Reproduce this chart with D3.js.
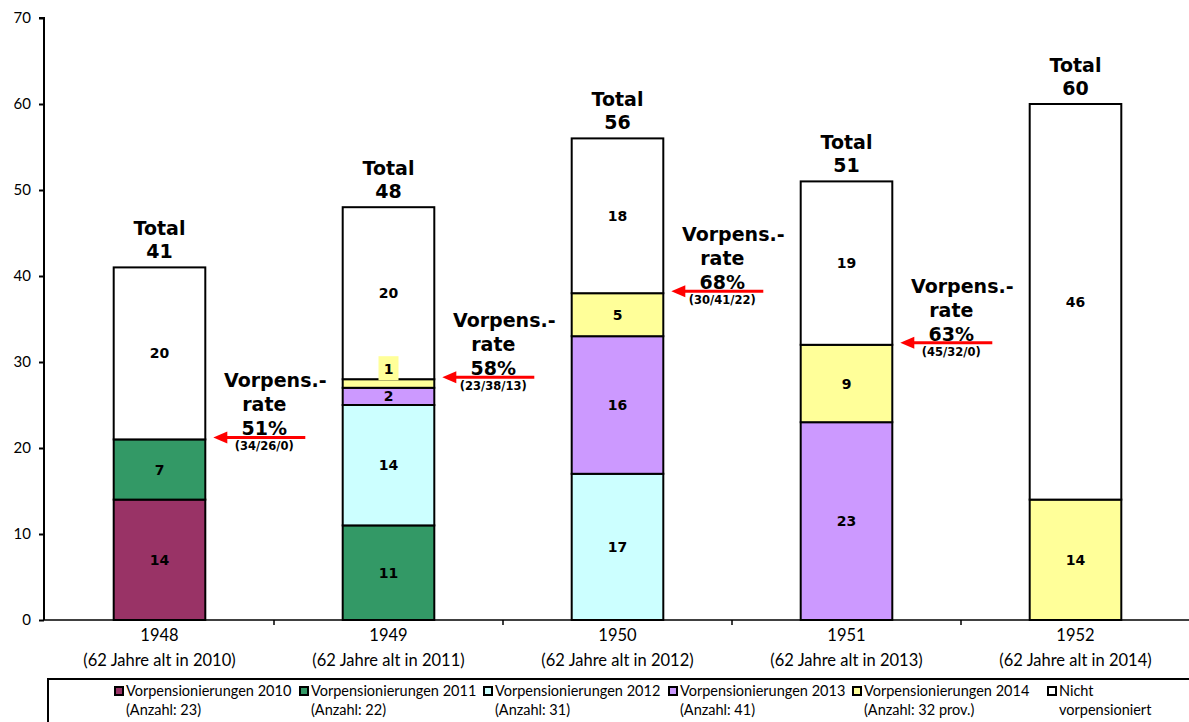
<!DOCTYPE html>
<html>
<head>
<meta charset="utf-8">
<script src="https://cdn.jsdelivr.net/npm/d3@7"></script>
<style>
  html, body { margin: 0; padding: 0; background: #fff; }
  svg { display: block; }
  text { font-family: "Lato", "DejaVu Sans", sans-serif; fill: #000; }
  .b { font-family: "DejaVu Sans", sans-serif; font-weight: bold; }
</style>
</head>
<body>
<svg id="chart" width="1189" height="722"></svg>
<script>
// ---- data ----
const cohorts = ["1948", "1949", "1950", "1951", "1952"];
const cohortSub = ["(62 Jahre alt in 2010)", "(62 Jahre alt in 2011)", "(62 Jahre alt in 2012)", "(62 Jahre alt in 2013)", "(62 Jahre alt in 2014)"];
const seriesNames = ["Vorpensionierungen 2010", "Vorpensionierungen 2011", "Vorpensionierungen 2012", "Vorpensionierungen 2013", "Vorpensionierungen 2014", "Nicht"];
const seriesSub = ["(Anzahl: 23)", "(Anzahl: 22)", "(Anzahl: 31)", "(Anzahl: 41)", "(Anzahl: 32 prov.)", "vorpensioniert"];
const seriesColors = ["#993366", "#339966", "#CCFFFF", "#CC99FF", "#FFFF99", "#FFFFFF"];
const v2010 = [14, 0, 0, 0, 0];
const v2011 = [7, 11, 0, 0, 0];
const v2012 = [0, 14, 17, 0, 0];
const v2013 = [0, 2, 16, 23, 0];
const v2014 = [0, 1, 5, 9, 14];
const vNicht = [20, 20, 18, 19, 46];
const totals = [41, 48, 56, 51, 60];
const rates = ["51%", "58%", "68%", "63%"];
const rateDetail = ["(34/26/0)", "(23/38/13)", "(30/41/22)", "(45/32/0)"];
const yTicks = [0, 10, 20, 30, 40, 50, 60, 70];

const seriesValues = [v2010, v2011, v2012, v2013, v2014, vNicht];
const rows = cohorts.map((c, i) => {
  const r = { cohort: c };
  seriesNames.forEach((s, k) => r[s] = seriesValues[k][i]);
  return r;
});

const svg = d3.select("#chart");
const x = d3.scaleBand().domain(cohorts).range([45, 1190]).padding(0);
const y = d3.scaleLinear().domain([0, 70]).range([620, 18]);
const bw = x.bandwidth() * 0.4;
const bx = c => x(c) + (x.bandwidth() - bw) / 2;

const stacked = d3.stack().keys(seriesNames)(rows);

// bars
const g = svg.append("g");
stacked.forEach((layer, k) => {
  g.selectAll(null).data(layer.filter(d => d[1] - d[0] > 0)).join("rect")
    .attr("x", d => bx(d.data.cohort))
    .attr("y", d => y(d[1]))
    .attr("width", bw)
    .attr("height", d => y(d[0]) - y(d[1]))
    .attr("fill", seriesColors[k])
    .attr("stroke", "#000")
    .attr("stroke-width", 2);
});

// segment labels
stacked.forEach((layer, k) => {
  layer.filter(d => d[1] - d[0] > 0).forEach(d => {
    const v = d[1] - d[0];
    const cx = bx(d.data.cohort) + bw / 2;
    let cy = (y(d[0]) + y(d[1])) / 2;
    if (v < 2) {
      cy = y(d[1]) - 10;
      g.append("rect").attr("x", cx - 10).attr("y", cy - 13).attr("width", 20).attr("height", 24)
        .attr("fill", seriesColors[k]);
    }
    g.append("text").attr("class", "b")
      .attr("x", cx).attr("y", cy + 5)
      .attr("text-anchor", "middle")
      .attr("font-size", 14)
      .text(v);
  });
});

// totals
cohorts.forEach((c, i) => {
  const cx = bx(c) + bw / 2;
  const top = y(totals[i]);
  svg.append("text").attr("class", "b").attr("x", cx).attr("y", top - 32)
    .attr("text-anchor", "middle").attr("font-size", 19).text("Total");
  svg.append("text").attr("class", "b").attr("x", cx).attr("y", top - 9)
    .attr("text-anchor", "middle").attr("font-size", 19).text(totals[i]);
});

// rate annotations with arrows
const arrowLevels = [21, 28, 38, 32];
rates.forEach((r, i) => {
  const c = cohorts[i];
  const right = bx(c) + bw;
  const ay = y(arrowLevels[i]) - 2;
  const tip = right + 8;
  const tail = right + 100;
  const cx = right + 64;
  svg.append("line").attr("x1", tip + 10).attr("x2", tail).attr("y1", ay).attr("y2", ay)
    .attr("stroke", "#ff0000").attr("stroke-width", 3);
  svg.append("path")
    .attr("d", `M${tip},${ay} L${tip + 14},${ay - 6} L${tip + 14},${ay + 6} Z`)
    .attr("fill", "#ff0000");
  svg.append("text").attr("class", "b").attr("x", cx + 6).attr("y", ay - 50)
    .attr("text-anchor", "middle").attr("font-size", 19).text("Vorpens.-");
  svg.append("text").attr("class", "b").attr("x", cx - 5).attr("y", ay - 26)
    .attr("text-anchor", "middle").attr("font-size", 19).text("rate");
  svg.append("text").attr("class", "b").attr("x", cx - 5).attr("y", ay - 2)
    .attr("text-anchor", "middle").attr("font-size", 19).text(r);
  svg.append("text").attr("class", "b").attr("x", cx - 5).attr("y", ay + 13)
    .attr("text-anchor", "middle").attr("font-size", 11.5).text(rateDetail[i]);
});

// y axis
const yAxis = svg.append("g").attr("transform", "translate(44,0)")
  .call(d3.axisLeft(y).tickValues(yTicks).tickSize(5).tickPadding(8).tickFormat(d3.format("d")));
yAxis.select(".domain").attr("stroke", "#000").attr("stroke-width", 2).attr("d", `M-5,${y(70)}H0V${y(0)}`);
yAxis.selectAll(".tick line").attr("stroke", "#000").attr("stroke-width", 2);
yAxis.selectAll(".tick text").style("font-family", "Lato, sans-serif").attr("font-size", 15).attr("fill", "#000");

// x axis
svg.append("line").attr("x1", 44).attr("x2", 1189).attr("y1", 620).attr("y2", 620)
  .attr("stroke", "#000").attr("stroke-width", 1.5);
cohorts.forEach((c, i) => {
  const xx = x(c) + x.bandwidth();
  svg.append("line").attr("x1", xx).attr("x2", xx).attr("y1", 620).attr("y2", 625)
    .attr("stroke", "#000").attr("stroke-width", 1.5);
  const cx = x(c) + x.bandwidth() / 2;
  svg.append("text").attr("x", cx).attr("y", 641).attr("text-anchor", "middle")
    .attr("font-size", 16.5).text(c);
  svg.append("text").attr("x", cx).attr("y", 666).attr("text-anchor", "middle")
    .attr("font-size", 16.5).text(cohortSub[i]);
});

// legend
svg.append("rect").attr("x", 48).attr("y", 679).attr("width", 1160).attr("height", 60)
  .attr("fill", "#fff").attr("stroke", "#000").attr("stroke-width", 2);
const legX = [115, 300, 484, 669, 853, 1048];
seriesNames.forEach((s, k) => {
  const lx = legX[k];
  svg.append("rect").attr("x", lx).attr("y", 687).attr("width", 8).attr("height", 8)
    .attr("fill", seriesColors[k]).attr("stroke", "#000").attr("stroke-width", 2);
  svg.append("text").attr("x", lx + 11).attr("y", 696).attr("font-size", 14.5).text(s);
  svg.append("text").attr("x", lx + 11).attr("y", 715).attr("font-size", 14.5)
    .text(seriesSub[k]);
});
</script>
</body>
</html>
